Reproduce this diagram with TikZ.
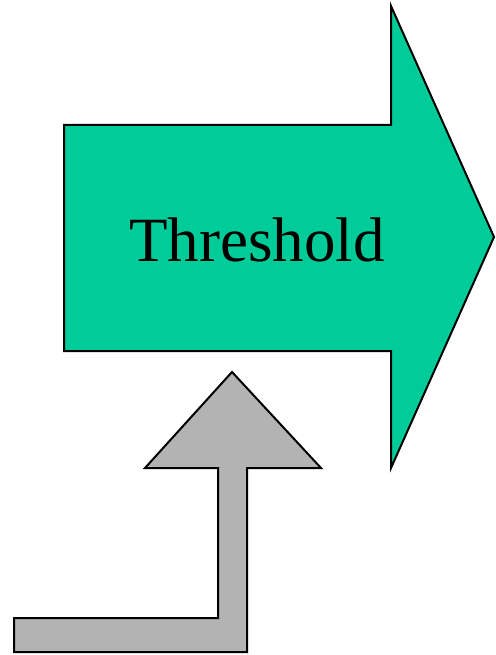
\documentclass[tikz,border=0pt]{standalone}
\usepackage{fontspec}
\setmainfont{Liberation Serif}
\definecolor{arrowgreen}{HTML}{00CC99}
\definecolor{arrowgray}{HTML}{B3B3B3}
\begin{document}
\begin{tikzpicture}[x=1pt,y=-1pt,
  shapeline/.style={draw=black,line width=2pt,line join=miter}]
\useasboundingbox (0,0) rectangle (495,655);
% green arrow
\draw[shapeline,fill=arrowgreen] (64,125) -- (391,125) -- (391,6) -- (494,237) -- (391,468) -- (391,351) -- (64,351) -- cycle;
\node[font=\fontsize{63}{70}\selectfont] (label) at (257,240) {Threshold};
% gray arrow
\draw[shapeline,fill=arrowgray] (14,618) -- (218,618) -- (218,468) -- (145,468) -- (232,372) -- (321,468) -- (247,468) -- (247,652) -- (14,652) -- cycle;
\end{tikzpicture}
\end{document}
